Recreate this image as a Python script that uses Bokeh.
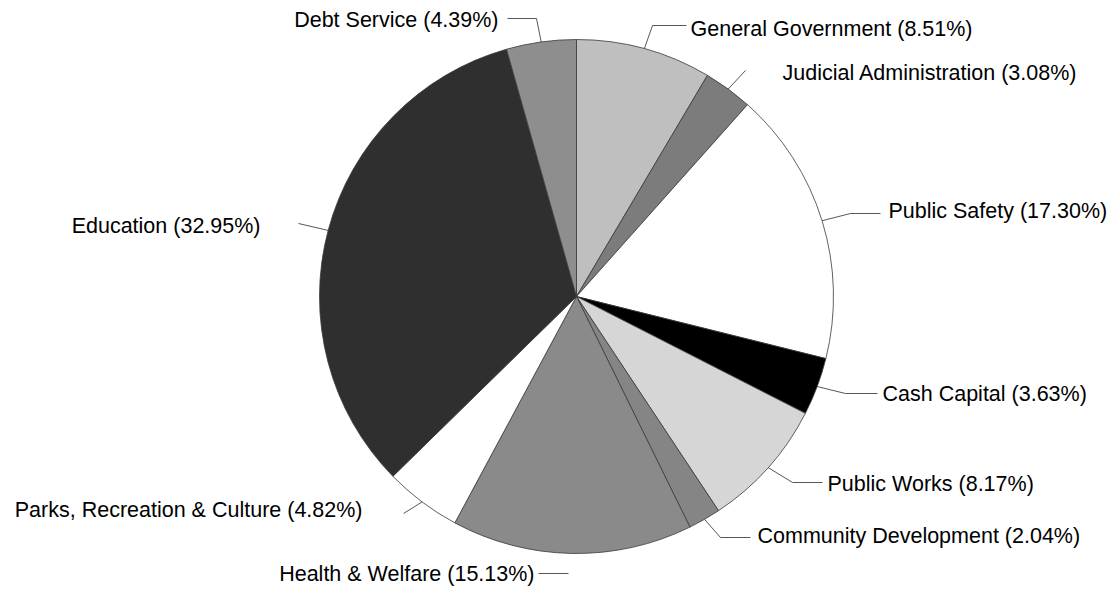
import math
from bokeh.plotting import figure
from bokeh.models import ColumnDataSource
from bokeh.core.properties import value
from bokeh.embed import file_html
from bokeh.resources import INLINE

# ---- data ----
categories = ["General Government", "Judicial Administration", "Public Safety",
              "Cash Capital", "Public Works", "Community Development",
              "Health & Welfare", "Parks, Recreation & Culture", "Education",
              "Debt Service"]
percents = [8.51, 3.08, 17.30, 3.63, 8.17, 2.04, 15.13, 4.82, 32.95, 4.39]

# ---- styles / layout ----
fills = ["#bfbfbf", "#7c7c7c", "#ffffff", "#000000", "#d6d6d6",
         "#858585", "#8a8a8a", "#ffffff", "#2f2f2f", "#8e8e8e"]

W, H = 1111, 591
CX, CY, R = 576, 296, 257

def dx(px):
    return (px - CX) / R

def dy(py):
    return (CY - py) / R

# label layout in pixels: (anchor x, center y, align, elbow points, connect to arc)
label_layout = [
    (690, 28, "left", [(652, 25), (686, 25)], True),
    (782, 72, "left", [(745, 70)], True),
    (888, 210, "left", [(850, 213), (880, 213)], True),
    (882, 393, "left", [(845, 393), (877, 393)], True),
    (827, 483, "left", [(792, 482), (822, 482)], True),
    (757, 535, "left", [(720, 537), (750, 537)], True),
    (534, 573, "right", [(568, 573), (538, 573)], False),
    (362, 509, "right", [(403, 513)], True),
    (260, 225, "right", [(298, 223)], True),
    (498, 19, "right", [(536, 18), (507, 18)], True),
]

total = sum(percents)
starts, ends, mids = [], [], []
cum = 0.0
for v in percents:
    f0 = cum / total
    cum += v
    f1 = cum / total
    starts.append(math.pi / 2 - 2 * math.pi * f0)
    ends.append(math.pi / 2 - 2 * math.pi * f1)
    mids.append(math.pi / 2 - 2 * math.pi * (f0 + f1) / 2)

p = figure(width=W, height=H, output_backend="svg", toolbar_location=None,
           x_range=(dx(0), dx(W)), y_range=(dy(H), dy(0)),
           min_border=0, outline_line_color=None)
p.axis.visible = False
p.grid.visible = False
p.background_fill_color = "white"
p.border_fill_color = "white"

src = ColumnDataSource(dict(start=starts, end=ends, fill=fills))
p.wedge(x=0, y=0, radius=1, start_angle="start", end_angle="end",
        direction="clock", fill_color="fill", line_color="#3a3a3a",
        line_width=0.8, source=src)

xs, ys = [], []
tx, ty, texts, aligns = [], [], [], []
for i, (cat, pc) in enumerate(zip(categories, percents)):
    lx, ly, align, elbows, connect = label_layout[i]
    mx, my = math.cos(mids[i]), math.sin(mids[i])
    lxs = [dx(e[0]) for e in elbows]
    lys = [dy(e[1]) for e in elbows]
    if connect:
        lxs = [mx] + lxs
        lys = [my] + lys
    xs.append(lxs)
    ys.append(lys)
    tx.append(dx(lx))
    ty.append(dy(ly))
    texts.append(f"{cat} ({pc:.2f}%)")
    aligns.append(align)

p.multi_line(xs=xs, ys=ys, line_color="#444444", line_width=0.9)

for align in ("left", "right"):
    idx = [k for k in range(len(texts)) if aligns[k] == align]
    s = ColumnDataSource(dict(x=[tx[k] for k in idx], y=[ty[k] for k in idx],
                              t=[texts[k] for k in idx]))
    p.text(x="x", y="y", text="t", source=s, text_align=align,
           text_baseline="middle", text_font=value("Liberation Sans"),
           text_font_size="21.5px", text_color="black")

open("out.html", "w").write(file_html(p, INLINE))
